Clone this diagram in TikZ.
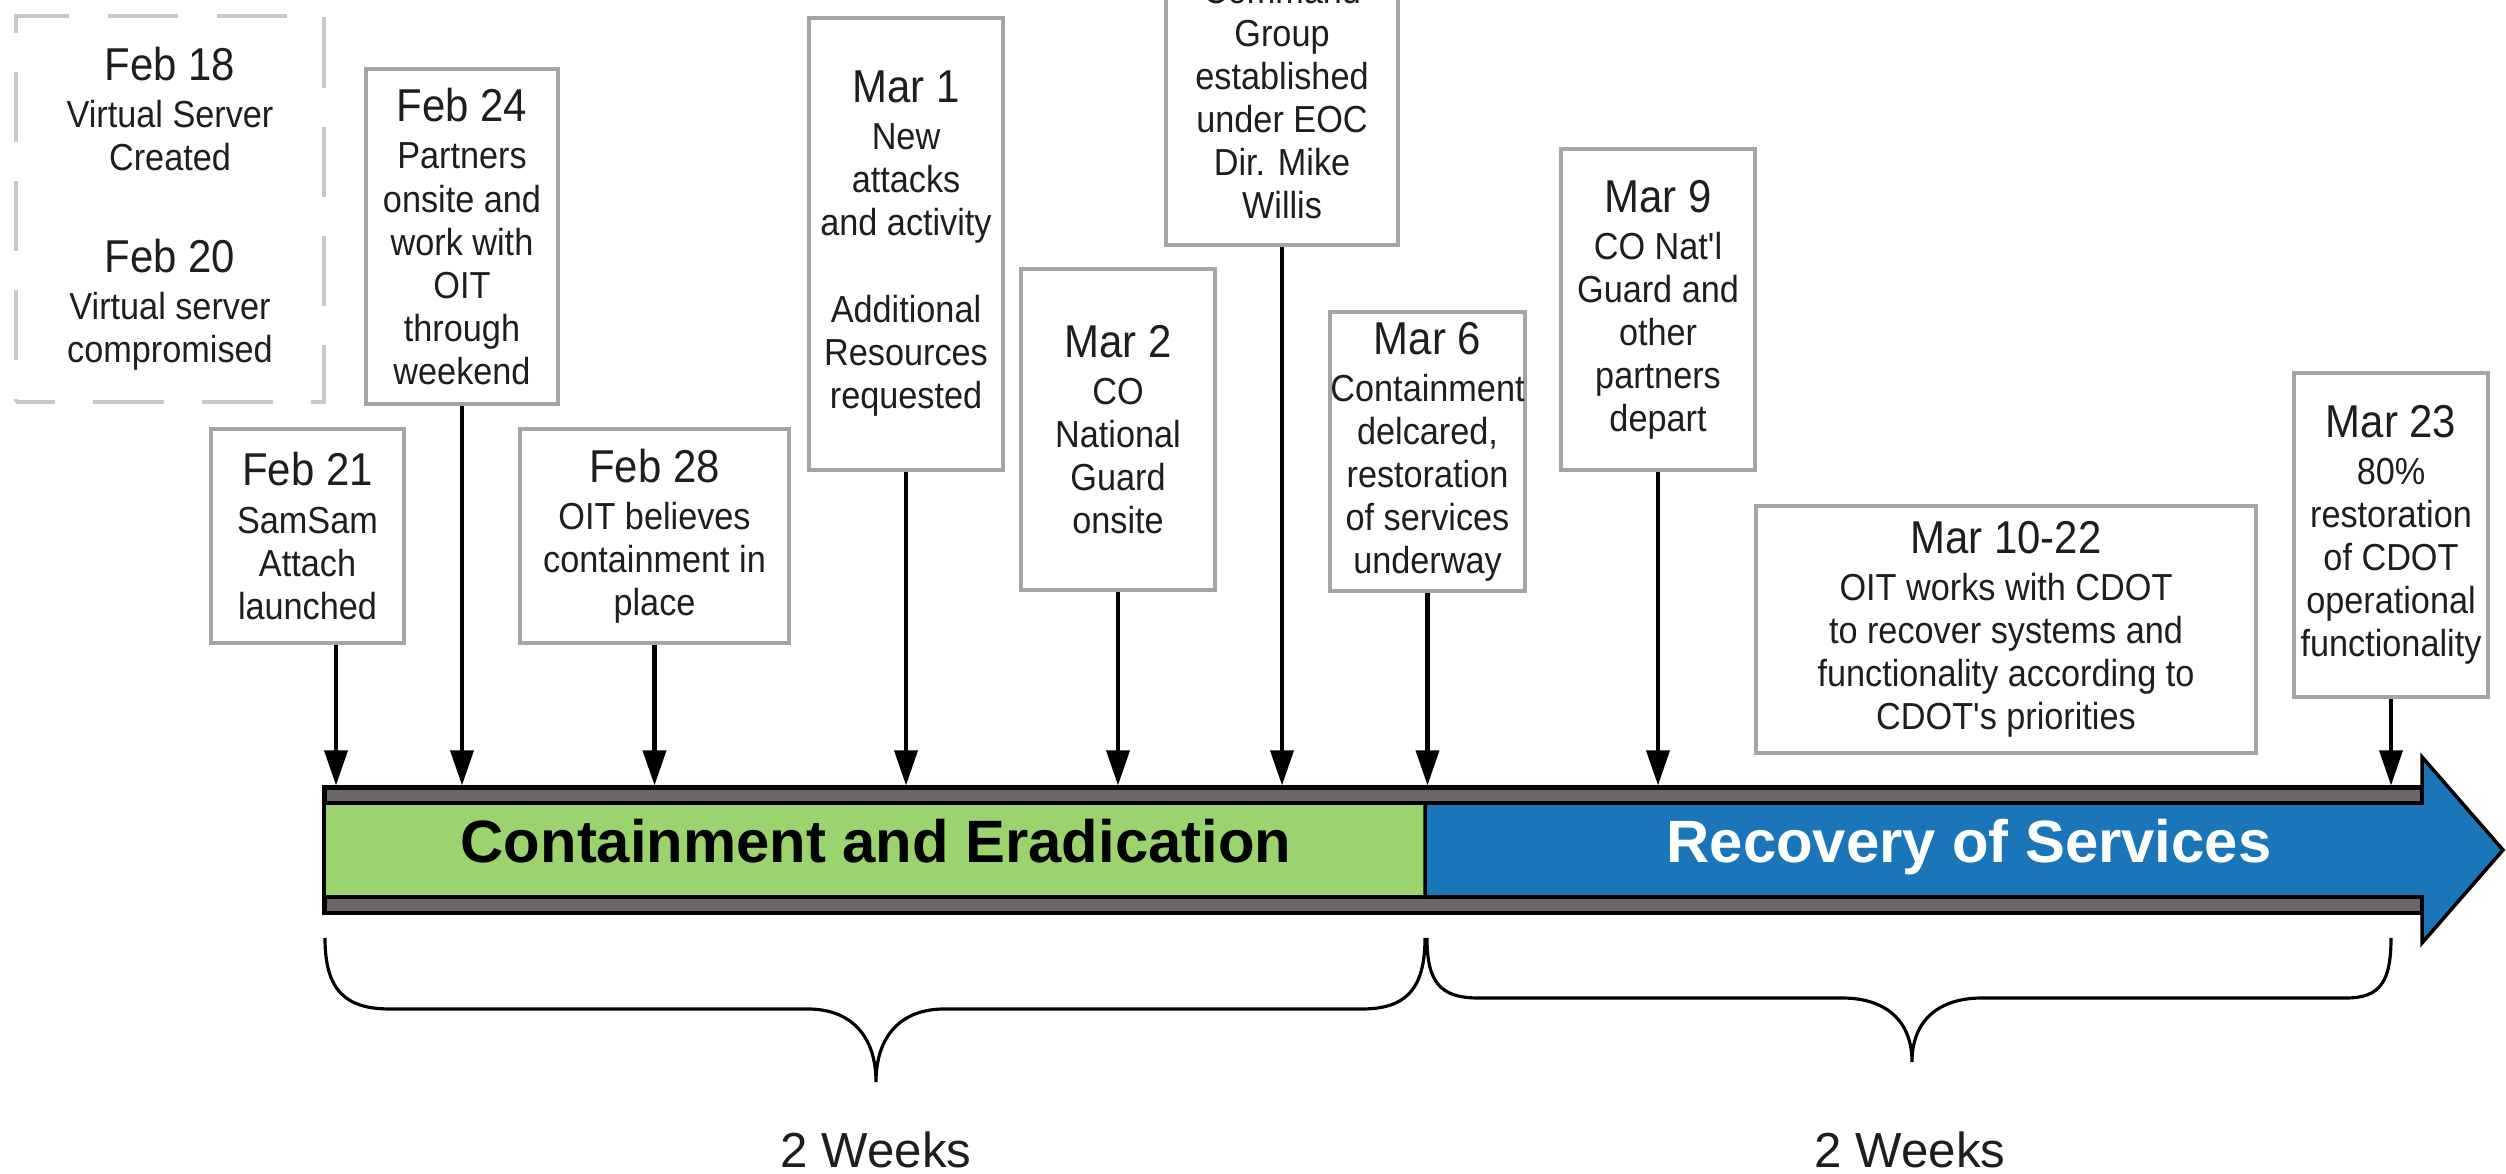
\documentclass[tikz,border=0pt]{standalone}
\usepackage{fontspec}
\setmainfont{Liberation Sans}
\newfontfamily\cnd{Liberation Sans}[FakeStretch=0.91]
\usetikzlibrary{arrows.meta}
\definecolor{boxgray}{RGB}{165,165,165}
\definecolor{dashgray}{RGB}{200,200,200}
\definecolor{txt}{RGB}{30,30,30}
\definecolor{barg}{RGB}{155,211,110}
\definecolor{barb}{RGB}{26,118,184}
\definecolor{strip}{RGB}{108,102,106}
\newcommand{\dtf}{\cnd\fontsize{13.1}{14}\selectfont}
\newcommand{\bdf}{\cnd\fontsize{10.7}{12.23}\selectfont}
\begin{document}
\begin{tikzpicture}[x=0.01cm,y=-0.01cm,
  evbox/.style={draw=boxgray, line width=1.1pt, fill=white, inner sep=0pt, align=center, text=txt, font=\bdf},
  dashbox/.style={draw=dashgray, line width=1.1pt, dash pattern=on 20pt off 11pt, dash phase=9pt, inner sep=0pt, align=center, text=txt, font=\bdf},
  evarrow/.style={line width=1.2pt, -{Triangle[length=10pt,width=6.5pt]}},
  brace/.style={line width=0.9pt},
  bartext/.style={font=\bfseries\fontsize{17}{20}\selectfont, anchor=base},
  weeks/.style={font=\fontsize{14}{16}\selectfont, text=txt, anchor=base}
]
\useasboundingbox (0,0) rectangle (2506,1174);
\clip (0,0) rectangle (2506,1174);

% event boxes
\node[dashbox, minimum width=3.08cm, minimum height=3.86cm] (d1820) at (170,209)
  {{\dtf Feb 18}\\[1.15pt]Virtual Server\\Created\\[16.8pt]{\dtf Feb 20}\\[1.15pt]Virtual server\\compromised};
\node[evbox, minimum width=1.92cm, minimum height=3.35cm] (f24) at (462,236.5)
  {{\dtf Feb 24}\\[1.15pt]Partners\\onsite and\\work with\\OIT\\through\\weekend};
\node[evbox, minimum width=1.93cm, minimum height=2.14cm] (f21) at (307.5,536)
  {{\dtf Feb 21}\\[1.15pt]SamSam\\Attach\\launched};
\node[evbox, minimum width=2.69cm, minimum height=2.14cm] (f28) at (654.5,536)
  {{\dtf Feb 28}\\[1.15pt]OIT believes\\containment in\\place};
\node[evbox, minimum width=1.94cm, minimum height=4.52cm] (m1) at (906,244)
  {{\dtf Mar 1}\\[1.15pt]New\\attacks\\and activity\\[12.5pt]Additional\\Resources\\requested};
\node[evbox, minimum width=1.94cm, minimum height=3.21cm] (m2) at (1118,429.5)
  {{\dtf Mar 2}\\[1.15pt]CO\\National\\Guard\\onsite};
\node[evbox, minimum width=2.32cm, minimum height=2.945cm] (cmd) at (1282,97.75)
  {Command\\Group\\established\\under EOC\\Dir. Mike\\Willis};
\node[evbox, minimum width=1.95cm, minimum height=2.79cm] (m6) at (1427.5,451.5)
  {{\dtf Mar 6}\\[1.15pt]Containment\\delcared,\\restoration\\of services\\underway};
\node[evbox, minimum width=1.94cm, minimum height=3.21cm] (m9) at (1658,309.5)
  {{\dtf Mar 9}\\[1.15pt]CO Nat'l\\Guard and\\other\\partners\\depart};
\node[evbox, minimum width=5.00cm, minimum height=2.47cm] (m1022) at (2006,629.5)
  {{\dtf Mar 10-22}\\[1.15pt]OIT works with CDOT\\to recover systems and\\functionality according to\\CDOT's priorities};
\node[evbox, minimum width=1.94cm, minimum height=3.24cm] (m23) at (2391,535)
  {{\dtf Mar 23}\\[1.15pt]80\%\\restoration\\of CDOT\\operational\\functionality};

% timeline bar
\node[draw=black, line width=1.4pt, fill=strip, minimum width=20.97cm, minimum height=1.25cm, inner sep=0pt] (bar) at (1373.5,850.5) {};
\node[draw=black, line width=1pt, fill=barg, minimum width=11.00cm, minimum height=0.94cm, inner sep=0pt] (cont) at (875,850) {};
\draw[fill=barb, line width=1pt, line join=miter] (1425,803) -- (2422,803) -- (2422,757) -- (2503,850) -- (2422,943) -- (2422,897) -- (1425,897) -- cycle;
\node[bartext, text=black] (ct) at (876,863) {Containment and Eradication};
\node[bartext, text=white] (rt) at (1969,863) {Recovery of Services};

% connectors
\draw[evarrow] ([xshift=0.285cm]f21.south) -- ([xshift=0.285cm]f21.south |- bar.north);
\draw[evarrow] (f24.south) -- (f24.south |- bar.north);
\draw[evarrow] (f28.south) -- (f28.south |- bar.north);
\draw[evarrow] (m1.south) -- (m1.south |- bar.north);
\draw[evarrow] (m2.south) -- (m2.south |- bar.north);
\draw[evarrow] (cmd.south) -- (cmd.south |- bar.north);
\draw[evarrow] (m6.south) -- (m6.south |- bar.north);
\draw[evarrow] (m9.south) -- (m9.south |- bar.north);
\draw[evarrow] (m23.south) -- (m23.south |- bar.north);

% braces
\draw[brace] (325,938) .. controls (325,990) and (345,1009) .. (390,1009) -- (808,1009)
  .. controls (850,1009) and (876,1035) .. (876,1082)
  .. controls (876,1035) and (902,1009) .. (944,1009) -- (1362,1009)
  .. controls (1405,1009) and (1425,990) .. (1425,938);
\draw[brace] (1427,938) .. controls (1427,982) and (1440,998) .. (1478,998) -- (1842,998)
  .. controls (1885,998) and (1912,1020) .. (1912,1062)
  .. controls (1912,1020) and (1939,998) .. (1982,998) -- (2346,998)
  .. controls (2380,998) and (2391,982) .. (2391,938);
\node[weeks] (w1) at (876,1168) {2 Weeks};
\node[weeks] (w2) at (1910,1168) {2 Weeks};
\end{tikzpicture}
\end{document}
